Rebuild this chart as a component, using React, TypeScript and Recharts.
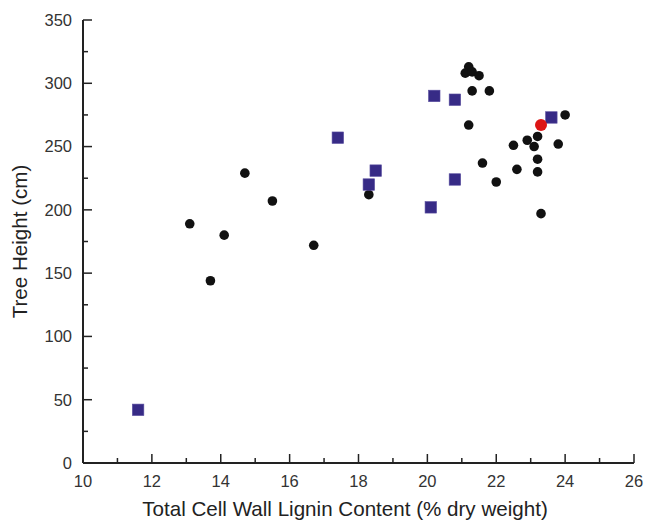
import React from "react";
import { ScatterChart, Scatter, XAxis, YAxis, Label } from "recharts";

// Black circles
const circleX = [13.1, 13.7, 14.1, 14.7, 15.5, 16.7, 18.3, 21.2, 21.1, 21.3, 21.5, 21.3, 21.8, 21.2, 24.0, 23.2, 22.9, 23.1, 22.5, 23.8, 23.2, 21.6, 22.6, 23.2, 22.0, 23.3];
const circleY = [189, 144, 180, 229, 207, 172, 212, 313, 308, 309, 306, 294, 294, 267, 275, 258, 255, 250, 251, 252, 240, 237, 232, 230, 222, 197];
// Blue squares
const squareX = [11.6, 17.4, 18.3, 18.5, 20.2, 20.1, 20.8, 20.8, 23.6];
const squareY = [42, 257, 220, 231, 290, 202, 287, 224, 273];
// Red circle
const redX = [23.3];
const redY = [267];

const xTicks = [10, 11, 12, 13, 14, 15, 16, 17, 18, 19, 20, 21, 22, 23, 24, 25, 26];
const xLabelTicks = [10, 12, 14, 16, 18, 20, 22, 24, 26];
const yTicks = [0, 25, 50, 75, 100, 125, 150, 175, 200, 225, 250, 275, 300, 325, 350];
const yLabelTicks = [0, 50, 100, 150, 200, 250, 300, 350];

const xTitle = "Total Cell Wall Lignin Content (% dry weight)";
const yTitle = "Tree Height (cm)";

const zip = (xs: number[], ys: number[]) => xs.map((x, i) => ({ x, y: ys[i] }));
const circles = zip(circleX, circleY);
const squares = zip(squareX, squareY);
const reds = zip(redX, redY);

const FONT = "'Liberation Sans', Arial, Helvetica, sans-serif";
const AXIS = "#222";
const X_MARGIN = 12;
const Y_MARGIN = 11;

const XTick = (props: any) => {
  const { x, y, payload } = props;
  const v = payload.value;
  const major = xLabelTicks.includes(v);
  const axisY = y - X_MARGIN;
  return (
    <g>
      <line x1={x} x2={x} y1={axisY} y2={axisY - (major ? 9 : 5)} stroke={AXIS} strokeWidth={1.5} />
      {major && (
        <text x={x} y={y} dy="0.71em" textAnchor="middle" fontSize={16.5} fill="#333" fontFamily={FONT}>
          {v}
        </text>
      )}
    </g>
  );
};

const YTick = (props: any) => {
  const { x, y, payload } = props;
  const v = payload.value;
  const major = yLabelTicks.includes(v);
  const axisX = x + Y_MARGIN;
  return (
    <g>
      <line x1={axisX} x2={axisX + (major ? 9 : 5)} y1={y} y2={y} stroke={AXIS} strokeWidth={1.5} />
      {major && (
        <text x={x} y={y} dy="0.355em" textAnchor="end" fontSize={16.5} fill="#333" fontFamily={FONT}>
          {v}
        </text>
      )}
    </g>
  );
};

const Circle = (r: number, fill: string) => (props: any) => {
  const { cx, cy } = props;
  return <circle cx={cx} cy={cy} r={r} fill={fill} />;
};

const Square = (props: any) => {
  const { cx, cy } = props;
  return <rect x={cx - 5.75} y={cy - 5.75} width={11.5} height={11.5} fill="#372b86" stroke="#5a4fa0" strokeWidth={0.6} />;
};

export default function App() {
  return (
    <div style={{ position: "absolute", left: 0, top: 0, width: 646, height: 520, background: "#fff" }}>
      <ScatterChart width={646} height={520} margin={{ top: 20, right: 12, left: 0, bottom: 0 }}>
        <XAxis
          xAxisId="main"
          type="number"
          dataKey="x"
          domain={[10, 26]}
          ticks={xTicks}
          interval={0}
          height={57}
          tickSize={0}
          tickMargin={X_MARGIN}
          tick={XTick}
          tickLine={false}
          axisLine={{ stroke: AXIS, strokeWidth: 2 }}
          allowDataOverflow
          label={
            <Label
              content={(p: any) => {
                const vb = p.viewBox;
                return (
                  <text
                    x={vb.x + vb.width / 2 - 13.5}
                    y={vb.y + 52.7}
                    textAnchor="middle"
                    fontSize={20.6}
                    fill="#222"
                    fontFamily={FONT}
                  >
                    {xTitle}
                  </text>
                );
              }}
            />
          }
        />
        <XAxis
          xAxisId="top"
          orientation="top"
          type="number"
          domain={[10, 26]}
          height={0}
          tick={false}
          tickLine={false}
          axisLine={{ stroke: AXIS, strokeWidth: 2 }}
        />
        <YAxis
          yAxisId="main"
          type="number"
          dataKey="y"
          domain={[0, 350]}
          ticks={yTicks}
          interval={0}
          width={83}
          tickSize={0}
          tickMargin={Y_MARGIN}
          tick={YTick}
          tickLine={false}
          axisLine={{ stroke: AXIS, strokeWidth: 2 }}
          allowDataOverflow
          label={
            <Label
              content={(p: any) => {
                const vb = p.viewBox;
                const cx = vb.x + 19;
                const cy = vb.y + vb.height / 2;
                return (
                  <text
                    x={cx}
                    y={cy}
                    textAnchor="middle"
                    dominantBaseline="central"
                    transform={`rotate(-90 ${cx} ${cy})`}
                    fontSize={20.6}
                    fill="#222"
                    fontFamily={FONT}
                  >
                    {yTitle}
                  </text>
                );
              }}
            />
          }
        />
        <YAxis
          yAxisId="right"
          orientation="right"
          type="number"
          domain={[0, 350]}
          width={0}
          tick={false}
          tickLine={false}
          axisLine={{ stroke: AXIS, strokeWidth: 2 }}
        />
        <Scatter xAxisId="main" yAxisId="main" data={circles} shape={Circle(4.8, "#111")} isAnimationActive={false} />
        <Scatter xAxisId="main" yAxisId="main" data={squares} shape={Square} isAnimationActive={false} />
        <Scatter xAxisId="main" yAxisId="main" data={reds} shape={Circle(6, "#dd1515")} isAnimationActive={false} />
      </ScatterChart>
    </div>
  );
}
